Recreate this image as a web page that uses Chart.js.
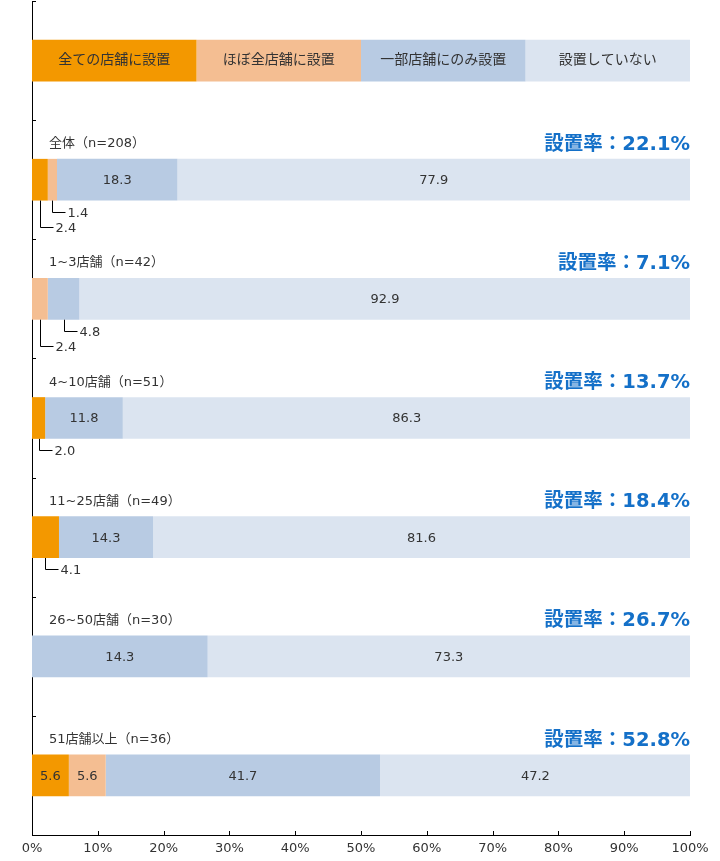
<!DOCTYPE html>
<html><head><meta charset="utf-8">
<script src="https://cdn.jsdelivr.net/npm/chart.js@4"></script>
<style>html,body{margin:0;padding:0;background:#fff}#wrap{width:720px;height:861px;position:relative}</style>
</head><body><div id="wrap"><canvas id="c"></canvas></div>
<script>
const seriesNames = ['全ての店舗に設置','ほぼ全店舗に設置','一部店舗にのみ設置','設置していない'];
const groups = ['全体（n=208）','1~3店舗（n=42）','4~10店舗（n=51）','11~25店舗（n=49）','26~50店舗（n=30）','51店舗以上（n=36）'];
const rates = ['22.1','7.1','13.7','18.4','26.7','52.8'];
const allStores    = [2.4, 0,   2.0,  4.1,  0,    5.6];
const nearlyAll    = [1.4, 2.4, 0,    0,    0,    5.6];
const someStores   = [18.3,4.8, 11.8, 14.3, 26.7, 41.7];
const notInstalled = [77.9,92.9,86.3, 81.6, 73.3, 47.2];
// labels as printed on the original (26~50 row shows 14.3 on a 26.7-wide bar)
const someStoresShown = ['18.3','4.8','11.8','14.3','14.3','41.7'];
const legendShare = [25,25,25,25];
const xTickValues = [0,10,20,30,40,50,60,70,80,90,100];

const colors = ['#F39800','#F4BE92','#B8CBE3','#DBE4F0'];
const series = [allStores, nearlyAll, someStores, notInstalled];
const shown = [allStores.map(v=>v.toFixed(1)), nearlyAll.map(v=>v.toFixed(1)), someStoresShown, notInstalled.map(v=>v.toFixed(1))];
const FONT = '"DejaVu Sans","Noto Sans CJK JP",sans-serif';

const labelsPlugin = {
  id: 'labelsPlugin',
  afterDatasetsDraw(chart) {
    const ctx = chart.ctx, ca = chart.chartArea;
    ctx.save();
    ctx.strokeStyle = '#000'; ctx.lineWidth = 1;
    const xs = chart.scales.x;
    const n = chart.data.labels.length;
    const step = (ca.bottom - ca.top) / n;
    for (let i = 0; i < n; i++) {
      const y = Math.round(ca.top + i*step) + 0.5;
      ctx.beginPath(); ctx.moveTo(ca.left, y); ctx.lineTo(ca.left + 4, y); ctx.stroke();
    }
    xTickValues.forEach(v => {
      const x = Math.round(xs.getPixelForValue(v)) + 0.5;
      ctx.beginPath(); ctx.moveTo(x, ca.bottom); ctx.lineTo(x, ca.bottom - 4); ctx.stroke();
    });
    const leaders = {};
    for (let d = 0; d < 4; d++) {
      const meta = chart.getDatasetMeta(d);
      meta.data.forEach((el, j) => {
        const p = el.getProps(['x','base','y','height'], true);
        const cx = (p.x + p.base) / 2;
        ctx.fillStyle = '#333';
        ctx.textBaseline = 'middle';
        if (j === 0) {
          ctx.font = '14px ' + FONT;
          ctx.textAlign = 'center';
          ctx.fillText(seriesNames[d], cx, p.y);
          return;
        }
        ctx.font = '13px ' + FONT;
        const v = series[d][j-1];
        if (!v) return;
        if (v >= 5) {
          ctx.textAlign = 'center';
          ctx.fillText(shown[d][j-1], cx, p.y + 1);
        } else {
          (leaders[j] = leaders[j] || []).push({cx, bottom: p.y + p.height/2, text: shown[d][j-1]});
        }
      });
    }
    Object.keys(leaders).forEach(j => {
      const arr = leaders[j].sort((a,b) => b.cx - a.cx);
      arr.forEach((it, k) => {
        const x = Math.round(it.cx) + 0.5;
        const yEnd = Math.round(it.bottom + 11 + 15*k) + 0.5;
        ctx.strokeStyle = '#000';
        ctx.beginPath(); ctx.moveTo(x, it.bottom); ctx.lineTo(x, yEnd); ctx.lineTo(x + 13, yEnd); ctx.stroke();
        ctx.fillStyle = '#333'; ctx.textAlign = 'left'; ctx.textBaseline = 'middle';
        ctx.font = '13px ' + FONT;
        ctx.fillText(it.text, x + 15, yEnd + 1);
      });
    });
    const meta0 = chart.getDatasetMeta(0);
    groups.forEach((g, i) => {
      const el = meta0.data[i+1];
      const p = el.getProps(['y','height'], true);
      const top = p.y - p.height/2;
      ctx.fillStyle = '#333'; ctx.textAlign = 'left'; ctx.textBaseline = 'middle';
      ctx.font = '13px ' + FONT;
      ctx.fillText(g, ca.left + 17, top - 15);
      ctx.fillStyle = '#1470C8'; ctx.textAlign = 'right';
      ctx.font = 'bold 19.5px ' + FONT;
      ctx.fillText('設置率：' + rates[i] + '%', ca.right, top - 14);
    });
    ctx.restore();
  }
};

new Chart(document.getElementById('c'), {
  type: 'bar',
  data: {
    labels: ['凡例'].concat(groups),
    datasets: series.map((s, d) => ({
      label: seriesNames[d],
      data: [legendShare[d]].concat(s),
      backgroundColor: colors[d],
      borderWidth: 0,
      categoryPercentage: 1,
      barPercentage: 0.35
    }))
  },
  options: {
    indexAxis: 'y',
    responsive: true,
    maintainAspectRatio: false,
    animation: false,
    layout: { padding: { left: 0, right: 30, top: 1, bottom: 0 } },
    plugins: { legend: { display: false }, tooltip: { enabled: false } },
    scales: {
      x: {
        stacked: true, min: 0, max: 100,
        afterBuildTicks: s => { s.ticks = xTickValues.map(v => ({value: v})); },
        afterFit: s => { s.height = 26; },
        ticks: { callback: v => v + '%', color: '#333', font: { size: 13, family: FONT }, padding: 6, maxRotation: 0 },
        grid: { display: false, drawTicks: false },
        border: { display: true, color: '#000', width: 1 }
      },
      y: {
        stacked: true,
        afterFit: s => { s.width = 32; },
        ticks: { display: false },
        grid: { display: false, drawTicks: false },
        border: { display: true, color: '#000', width: 1 }
      }
    }
  },
  plugins: [labelsPlugin]
});
</script>
</body></html>
